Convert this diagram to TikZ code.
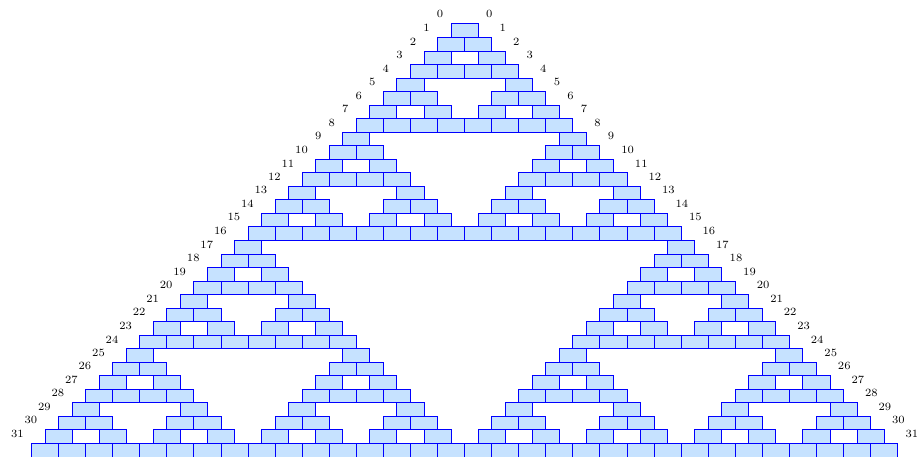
\documentclass[tikz,border=0pt]{standalone}
\usepackage{tikz}
\definecolor{brickfill}{RGB}{198,226,255}

\begin{document}
\begin{tikzpicture}[
    brick/.style={rectangle, draw=blue, fill=brickfill, line width=0.6pt, minimum width=0.6cm, minimum height=0.3cm, inner sep=0pt, outer sep=0pt},
    rowlabel/.style={font=\scriptsize, inner sep=0pt}
]
\useasboundingbox (-10.3,0.53) rectangle (10.05,-9.6);

% Bricks: one for every odd binomial coefficient
\foreach \n in {0,...,31} {
  \foreach \k in {0,...,\n} {
    \pgfmathtruncatemacro\bad{max(0,mod(\k,2)-mod(\n,2))
      + max(0,mod(floor(\k/2),2)-mod(floor(\n/2),2))
      + max(0,mod(floor(\k/4),2)-mod(floor(\n/4),2))
      + max(0,mod(floor(\k/8),2)-mod(floor(\n/8),2))
      + max(0,mod(floor(\k/16),2)-mod(floor(\n/16),2))}
    \ifnum\bad=0
      \node[brick] (b\n-\k) at ({(\k-\n/2)*0.6}, {-\n*0.3-0.15}) {};
    \fi
  }
}

% Row numbers on both sides
\foreach \n in {0,...,31} {
  \node[rowlabel, anchor=south east] (l\n) at ([xshift=-4.8pt, yshift=3.4pt]b\n-0.north west) {\n};
  \node[rowlabel, anchor=south west] (r\n) at ([xshift=4.8pt, yshift=3.4pt]b\n-\n.north east) {\n};
}

\end{tikzpicture}
\end{document}
